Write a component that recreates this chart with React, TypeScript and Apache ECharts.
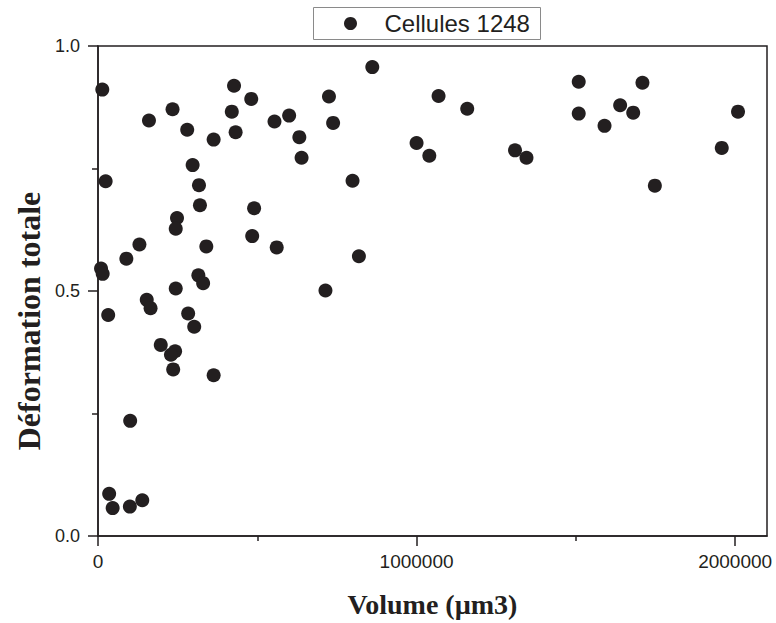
import React, { useEffect, useRef } from "react";
import * as echarts from "echarts";

const seriesName = "Cellules 1248";
const volumes = [
  13500, 160000, 234000, 280000, 363000, 427000, 481000, 420000, 432000, 554000,
  600000, 24000, 297000, 317000, 320000, 248000, 244000, 130000, 89000, 340000,
  484000, 490000, 561000, 9500, 14700, 315000, 330000, 244000, 32000, 153000,
  165000, 283000, 302000, 197000, 242000, 229000, 236000, 363000, 101000, 35000,
  46000, 100000, 139000, 861000, 725000, 738000, 632000, 639000, 799000, 1069000,
  1159000, 1000000, 1040000, 1309000, 1345000, 819000, 714000, 1509000, 1709000, 1509000,
  1639000, 1680000, 1590000, 2009000, 1958000, 1748000,
];
const deformations = [
  0.911, 0.848, 0.871, 0.829, 0.809, 0.919, 0.892, 0.866, 0.824, 0.846,
  0.858, 0.724, 0.757, 0.716, 0.675, 0.649, 0.627, 0.595, 0.566, 0.591,
  0.612, 0.669, 0.589, 0.546, 0.535, 0.532, 0.516, 0.505, 0.451, 0.482,
  0.465, 0.454, 0.427, 0.39, 0.377, 0.37, 0.34, 0.328, 0.235, 0.086,
  0.057, 0.06, 0.073, 0.957, 0.897, 0.843, 0.814, 0.772, 0.725, 0.898,
  0.872, 0.802, 0.776, 0.787, 0.772, 0.571, 0.501, 0.927, 0.925, 0.862,
  0.879, 0.864, 0.837, 0.866, 0.792, 0.715,
];
const xMajorTicks = [0, 1000000, 2000000];
const xMinorTicks = [500000, 1500000];
const xTitle = "Volume (µm3)";
const yTitle = "Déformation totale";

const SANS = "'Liberation Sans', Arial, sans-serif";
const SERIF = "'Liberation Serif', 'Times New Roman', serif";
const INK = "#231f20";

export default function App() {
  const ref = useRef<HTMLDivElement>(null);
  useEffect(() => {
    document.body.style.margin = "0";
    if (!ref.current) return;
    const chart = echarts.init(ref.current, undefined, { renderer: "svg" });
    const data = volumes.map((v, i) => [v, deformations[i]]);
    chart.setOption({
      animation: false,
      backgroundColor: "#ffffff",
      grid: {
        left: 98,
        right: 9,
        top: 46,
        bottom: 85,
        show: true,
        borderColor: INK,
        borderWidth: 1.5,
      },
      xAxis: [
        {
          type: "value",
          min: 0,
          max: 2100000,
          splitLine: { show: false },
          axisLine: { lineStyle: { color: INK, width: 1.5 } },
          axisTick: { show: true, length: 10, customValues: xMajorTicks, lineStyle: { color: INK, width: 1.5 } },
          axisLabel: {
            customValues: xMajorTicks,
            fontSize: 19,
            fontFamily: SANS,
            color: INK,
            margin: 16,
            formatter: (v: number) => String(v),
          },
          name: xTitle,
          nameLocation: "middle",
          nameGap: 54,
          nameTextStyle: { fontFamily: SERIF, fontWeight: "bold", fontSize: 28, color: INK },
        },
        {
          type: "value",
          min: 0,
          max: 2100000,
          position: "bottom",
          splitLine: { show: false },
          axisLine: { show: false },
          axisLabel: { show: false },
          axisTick: { show: true, length: 5, customValues: xMinorTicks, lineStyle: { color: INK, width: 1.5 } },
        },
      ],
      yAxis: {
        type: "value",
        min: 0,
        max: 1,
        interval: 0.5,
        splitLine: { show: false },
        axisLine: { show: true, lineStyle: { color: INK, width: 1.5 } },
        axisTick: { show: true, length: 10, lineStyle: { color: INK, width: 1.5 } },
        minorTick: { show: true, splitNumber: 2, length: 6, lineStyle: { color: INK, width: 1.5 } },
        axisLabel: {
          fontSize: 18,
          fontFamily: SANS,
          color: INK,
          margin: 18,
          formatter: (v: number) => v.toFixed(1),
        },
      },
      graphic: [
        {
          type: "text",
          x: 29,
          y: 321,
          rotation: Math.PI / 2,
          style: {
            text: yTitle,
            fontFamily: SERIF,
            fontWeight: "bold",
            fontSize: 32,
            fill: INK,
            textAlign: "center",
            textVerticalAlign: "middle",
          },
        },
        {
          type: "group",
          left: 313,
          top: 7,
          children: [
            {
              type: "rect",
              shape: { x: 0, y: 0, width: 227, height: 32 },
              style: { fill: "#ffffff", stroke: "#8a8a8a", lineWidth: 1 },
            },
            {
              type: "circle",
              shape: { cx: 37, cy: 16, r: 6.5 },
              style: { fill: INK },
            },
            {
              type: "text",
              x: 71,
              y: 16,
              style: {
                text: seriesName,
                fontFamily: SANS,
                fontSize: 24,
                fill: INK,
                textAlign: "left",
                textVerticalAlign: "middle",
              },
            },
          ],
        },
      ],
      series: [
        {
          name: seriesName,
          type: "scatter",
          xAxisIndex: 0,
          symbol: "circle",
          symbolSize: 14,
          itemStyle: { color: INK, opacity: 1 },
          data,
        },
      ],
    });
    return () => chart.dispose();
  }, []);
  return <div ref={ref} style={{ width: 776, height: 623 }} />;
}
